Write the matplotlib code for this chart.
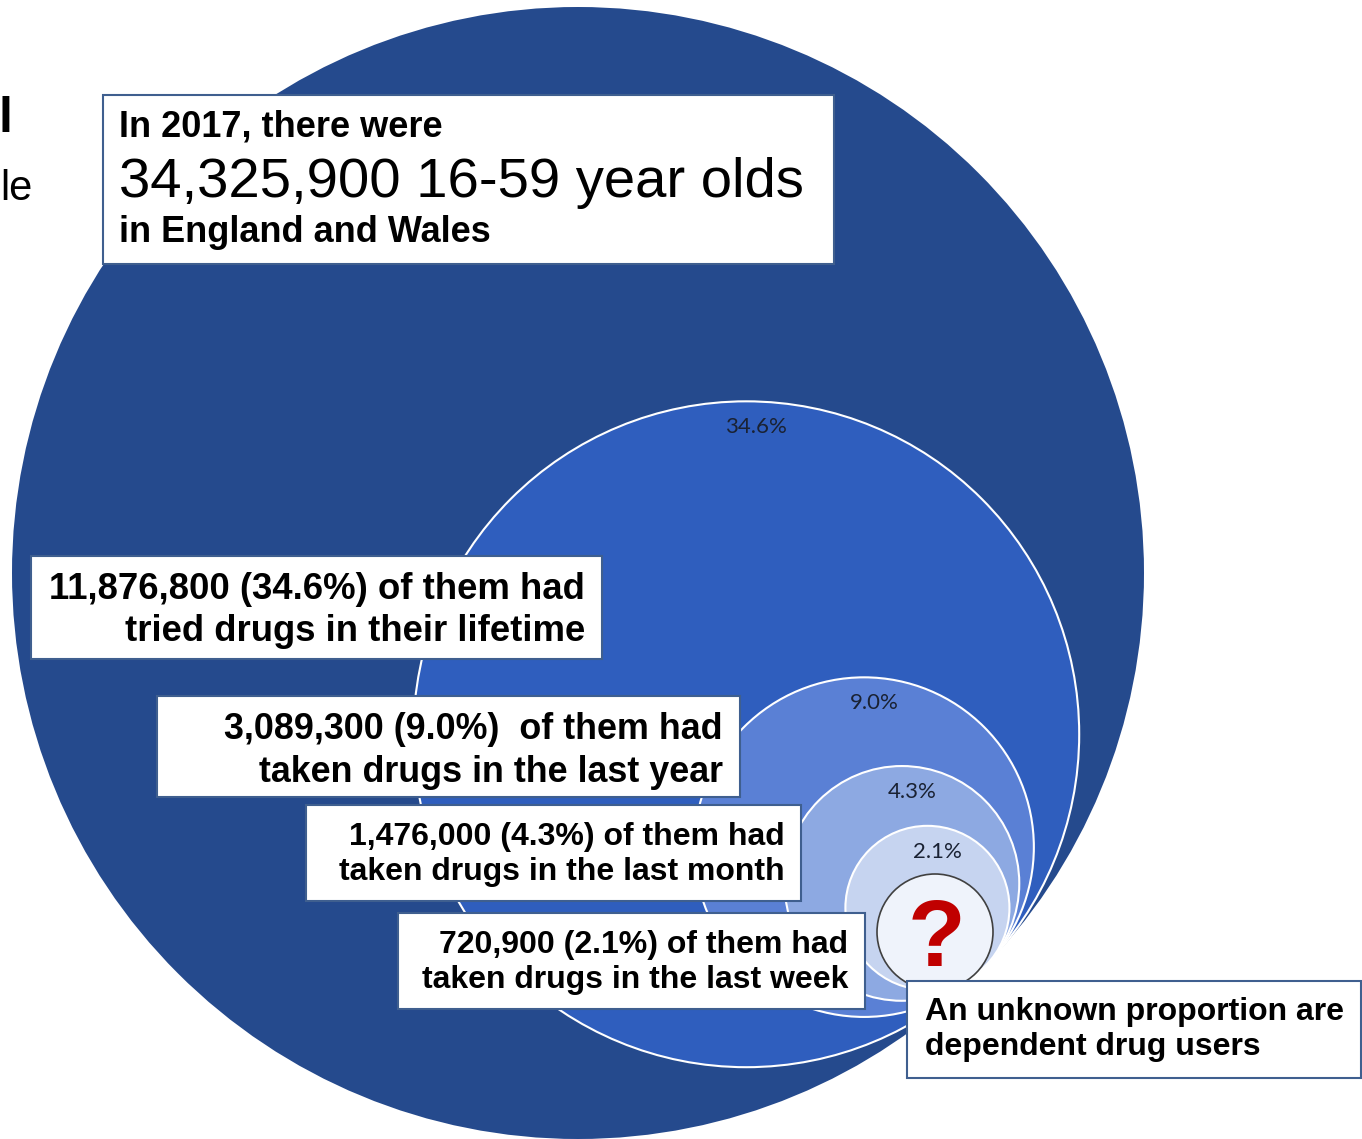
import matplotlib
matplotlib.use('Agg')
import matplotlib.pyplot as plt
from matplotlib.patches import Circle, Rectangle
from matplotlib import font_manager
import numpy as np

# data
total = 34325900
groups = ['lifetime', 'last year', 'last month', 'last week']
counts = [11876800, 3089300, 1476000, 720900]
shares = [0.346, 0.090, 0.043, 0.021]
fills = ['#2F5EBE', '#5A80D5', '#8DA9E2', '#C6D4F0']

box_lines = [
    ['11,876,800 (34.6%) of them had', 'tried drugs in their lifetime'],
    ['3,089,300 (9.0%)  of them had', 'taken drugs in the last year'],
    ['1,476,000 (4.3%) of them had', 'taken drugs in the last month'],
    ['720,900 (2.1%) of them had', 'taken drugs in the last week'],
]
headline = ['In 2017, there were', '34,325,900 16-59 year olds', 'in England and Wales']
unknown_lines = ['An unknown proportion are', 'dependent drug users']

names = {f.name for f in font_manager.fontManager.ttflist}
narrow = 'Liberation Sans Narrow' in names
FONT = 'Liberation Sans'
NFONT = 'Liberation Sans Narrow' if narrow else FONT

fig = plt.figure(figsize=(13.62, 11.39), dpi=100)
ax = fig.add_axes([0, 0, 1, 1])
ax.set_xlim(0, 1362)
ax.set_ylim(1139, 0)
ax.axis('off')

# big circle = whole population, nested circles share a tangent point
R = 566.0
cx, cy = 578.0, 573.0
u = np.array([0.72, 0.69])
u = u / np.linalg.norm(u)
tangent = np.array([cx, cy]) + R * u

ax.add_patch(Circle((cx, cy), R, facecolor='#254A8D', edgecolor='none', zorder=1))
for i, (s, col) in enumerate(zip(shares, fills)):
    r = R * np.sqrt(s)
    c = tangent - r * u
    ax.add_patch(Circle(c, r, facecolor=col, edgecolor='white', lw=1.5, zorder=2 + i))
    ax.text(c[0] + 10, c[1] - r + 26, f'{s * 100:.1f}%', ha='center', va='center',
            fontsize=16, family=['Lato', 'DejaVu Sans'], color='#1a2233', zorder=10)

# unknown share
ax.add_patch(Circle((935, 932), 58, facecolor='#EFF3FB', edgecolor='#404040', lw=1.2, zorder=11))
ax.text(937, 966, '?', ha='center', va='baseline', fontsize=68, fontweight='bold',
        family=FONT, color='#C00000', zorder=12)

box_edge = '#3F5F8F'


def box(x0, y0, x1, y1):
    ax.add_patch(Rectangle((x0, y0), x1 - x0, y1 - y0, facecolor='white',
                           edgecolor=box_edge, lw=1.5, zorder=20, clip_on=False))


# headline box
box(103, 95, 834, 264)
if narrow:
    ax.text(119, 137, headline[0], fontsize=31, fontweight='bold', family=NFONT, zorder=21)
    ax.text(119, 197, headline[1], fontsize=48, family=NFONT, zorder=21)
    ax.text(119, 242, headline[2], fontsize=31, fontweight='bold', family=NFONT, zorder=21)
else:
    ax.text(119, 137, headline[0], fontsize=26, fontweight='bold', family=FONT, zorder=21)
    ax.text(119, 197, headline[1], fontsize=40.5, family=FONT, zorder=21)
    ax.text(119, 242, headline[2], fontsize=26, fontweight='bold', family=FONT, zorder=21)

# group label boxes
rects = [(31, 556, 602, 659), (157, 696, 740, 797), (306, 805, 801, 901), (398, 913, 865, 1009)]
bases = [(599, 641), (739, 782), (845, 880), (953, 988)]
sizes = [26.3, 25.8, 23, 23]
right = [585, 723, 785, 848]
for lines, rc, bs, fs, xr in zip(box_lines, rects, bases, sizes, right):
    box(*rc)
    for ln, b in zip(lines, bs):
        ax.text(xr, b, ln, ha='right', va='baseline', fontsize=fs, fontweight='bold',
                family=FONT, zorder=21)

box(907, 981, 1361, 1078)
for ln, b in zip(unknown_lines, (1020, 1055)):
    ax.text(925, b, ln, ha='left', va='baseline', fontsize=23, fontweight='bold',
            family=FONT, zorder=21)

# cut-off title text at the left edge
ax.text(-1, 132, 'l', fontsize=36, fontweight='bold', family=FONT, va='baseline', zorder=21)
ax.text(0, 200, 'le', fontsize=30, family=FONT, va='baseline', zorder=21)

fig.savefig('out.png', dpi=100)
